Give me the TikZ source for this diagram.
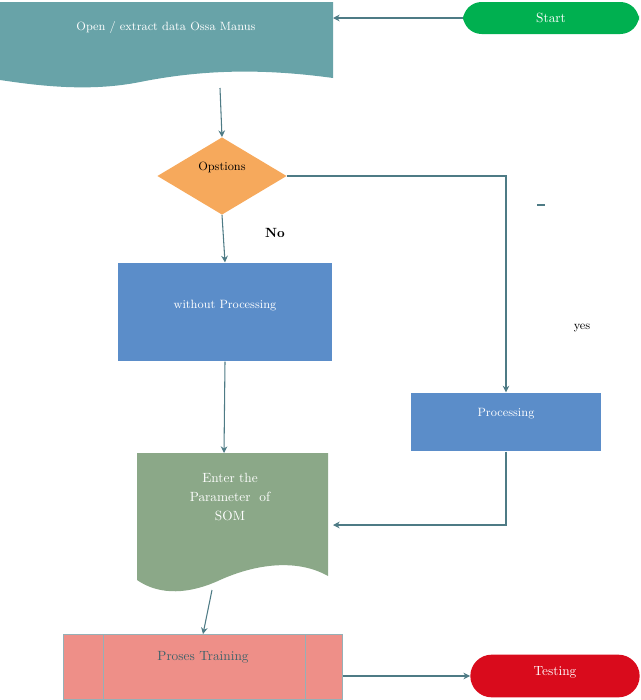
\documentclass[tikz,border=0pt]{standalone}
\usetikzlibrary{shapes.geometric,arrows.meta}
\definecolor{docteal}{HTML}{68A3A8}
\definecolor{startgreen}{HTML}{00B050}
\definecolor{optorange}{HTML}{F6A95C}
\definecolor{boxblue}{HTML}{5B8DC9}
\definecolor{parmgreen}{HTML}{8BA888}
\definecolor{trainpink}{HTML}{EE8F88}
\definecolor{testred}{HTML}{D90B1C}
\definecolor{linecol}{HTML}{4E7B85}
\begin{document}
\begin{tikzpicture}[x=0.75pt,y=-0.75pt,
  conn/.style={draw=linecol, line width=0.8pt},
  arr/.style={conn, -{Stealth[length=5pt,width=5pt]}},
  lbl/.style={font=\small, text=white},
  box/.style={draw=none, minimum width=#1*0.75pt, inner sep=0pt}]
\useasboundingbox (0,0) rectangle (640,700);

% document shapes
\fill[docteal] (0,2) -- (333,2) -- (333,78) .. controls (260,68) and (200,70) .. (140,82)
  .. controls (90,92) and (40,86) .. (0,80) -- cycle;
\node[lbl] (open) at (166,27) {Open / extract data Ossa Manus};
\coordinate (openR) at (333,18);
\coordinate (openB) at (220,88);

\fill[parmgreen] (137,453) -- (328,453) -- (328,576) .. controls (300,560) and (260,562) .. (220,580)
  .. controls (190,594) and (160,596) .. (137,580) -- cycle;
\node[lbl, align=center, font=\normalsize, text width=100pt] (parm) at (230,497)
  {Enter the\\[2pt]Parameter\ \ of\\[2pt]SOM};
\coordinate (parmT) at (224,453);
\coordinate (parmR) at (333,525);
\coordinate (parmB) at (212,590);

% terminators
\node[fill=startgreen, rounded corners=14pt, minimum width=132pt, minimum height=24pt,
  text=white] (start) at (551,18) {Start};
\node[fill=testred, rounded corners=16pt, minimum width=127pt, minimum height=32pt,
  text=white, text depth=8pt] (test) at (555,676) {Testing};

% decision
\node[diamond, fill=optorange, minimum width=97pt, minimum height=58pt, inner sep=0pt,
  font=\small, text depth=14pt] (opt) at (222,176) {Opstions};

% process boxes
\node[fill=boxblue, minimum width=160pt, minimum height=74pt, lbl, text depth=12pt]
  (without) at (225,312) {without Processing};
\node[fill=boxblue, minimum width=143pt, minimum height=44pt, lbl, text depth=14pt]
  (proc) at (506,422) {Processing};

% predefined process
\node[fill=trainpink, draw=linecol!60, minimum width=209pt, minimum height=49pt,
  text=linecol!80!black, text depth=16pt] (train) at (203,667) {Proses Training};
\draw[linecol!60] ([xshift=30pt]train.north west) -- ([xshift=30pt]train.south west)
  ([xshift=-28pt]train.north east) -- ([xshift=-28pt]train.south east);

% connectors
\draw[arr] (start.west) -- (openR);
\draw[arr] (openB) -- (opt.north);
\draw[arr] (opt.east) -| (proc.north);
\draw[conn] (537,205) -- (545,205);
\draw[arr] (opt.south) -- (without.north);
\draw[arr] (without.south) -- (parmT);
\draw[arr] (proc.south) |- (parmR);
\draw[arr] (parmB) -- (train.north);
\draw[arr] (train.east |- test.west) -- (test.west);

\node[font=\bfseries] (no) at (275,233) {No};
\node[font=\small] (yes) at (582,328) {yes};
\end{tikzpicture}
\end{document}
